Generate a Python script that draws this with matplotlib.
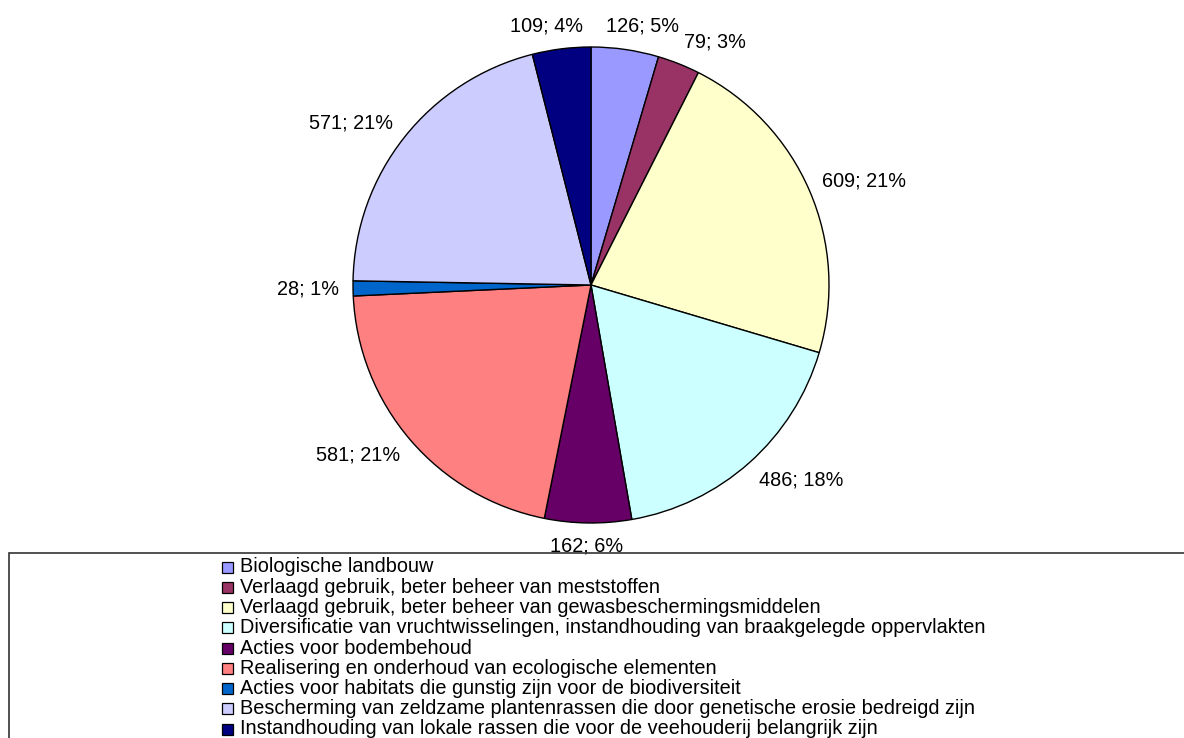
import matplotlib
matplotlib.use("Agg")
import matplotlib.pyplot as plt
from matplotlib.patches import Rectangle
import numpy as np

plt.rcParams['font.family'] = ['Liberation Sans', 'DejaVu Sans']

# measures (number of requests per category)
categories = [
    "Biologische landbouw",
    "Verlaagd gebruik, beter beheer van meststoffen",
    "Verlaagd gebruik, beter beheer van gewasbeschermingsmiddelen",
    "Diversificatie van vruchtwisselingen, instandhouding van braakgelegde oppervlakten",
    "Acties voor bodembehoud",
    "Realisering en onderhoud van ecologische elementen",
    "Acties voor habitats die gunstig zijn voor de biodiversiteit",
    "Bescherming van zeldzame plantenrassen die door genetische erosie bedreigd zijn",
    "Instandhouding van lokale rassen die voor de veehouderij belangrijk zijn",
]
counts = [126, 79, 609, 486, 162, 581, 28, 571, 109]
percent_labels = ["5%", "3%", "21%", "18%", "6%", "21%", "1%", "21%", "4%"]
colors = ["#9999FF", "#993366", "#FFFFCC", "#CCFFFF", "#660066",
          "#FF8080", "#0066CC", "#CCCCFF", "#000080"]

FS = 14.3
W, H = 1184, 738
fig = plt.figure(figsize=(W / 100, H / 100), dpi=100)
# axes in pixel units over the whole figure
ax = fig.add_axes([0, 0, 1, 1])

cx, cy, R = 591, H - 285, 238
wedges, _ = ax.pie(counts, colors=colors, startangle=90, counterclock=False,
                   center=(cx, cy), radius=R, frame=True,
                   wedgeprops=dict(edgecolor='black', linewidth=1.0))
ax.set_xlim(0, W)
ax.set_ylim(0, H)
ax.set_aspect('equal')
ax.axis('off')

# data labels outside the pie, shifted away from the rim by their own size
fig.canvas.draw()
renderer = fig.canvas.get_renderer()
pad = 14
for w, n, p in zip(wedges, counts, percent_labels):
    ang = np.deg2rad((w.theta1 + w.theta2) / 2)
    ux, uy = np.cos(ang), np.sin(ang)
    t = ax.text(0, 0, f"{n}; {p}", ha='center', va='center', fontsize=FS)
    bb = t.get_window_extent(renderer)
    sx = np.sign(ux) * min(1.0, abs(ux) * 3)
    x = cx + (R + pad) * ux + bb.width / 2 * sx
    y = cy + (R + pad) * uy + bb.height / 2 * uy
    t.set_position((x, y))

# legend frame (open to the right and bottom)
ax.add_patch(Rectangle((9, -20), W + 40, H - 553 + 20, fill=False,
                       edgecolor='#333333', linewidth=1.2, zorder=5,
                       clip_on=False))

# legend entries
row0, pitch = 567, 20.25
for i, (lab, c) in enumerate(zip(categories, colors)):
    yc = H - (row0 + i * pitch)
    ax.add_patch(Rectangle((222, yc - 5.5), 11, 11, facecolor=c,
                           edgecolor='black', linewidth=0.9, zorder=6))
    ax.text(240, yc, lab, ha='left', va='center', fontsize=FS, zorder=6)

fig.savefig("out.png", dpi=100)
